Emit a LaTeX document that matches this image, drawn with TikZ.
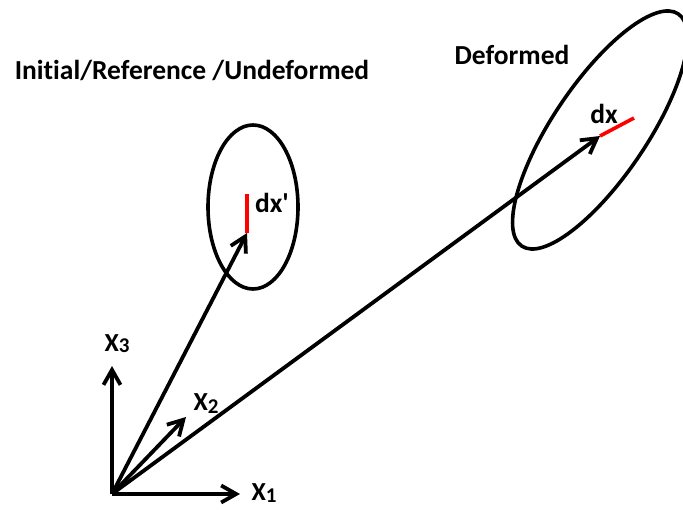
\documentclass[tikz,border=0pt]{standalone}
\usepackage{fontspec}
\setmainfont{Carlito}[Ligatures=CommonOff]
\usetikzlibrary{arrows.meta}
\begin{document}
\begin{tikzpicture}[x=1pt,y=1pt,
  vec/.style={line width=3.8pt,-{Straight Barb[length=15pt,width=17pt]}},
  elli/.style={line width=3.6pt},
  elem/.style={line width=3.6pt,red},
  lab/.style={font=\bfseries\fontsize{27.5}{30}\selectfont,inner sep=0pt},
  axl/.style={font=\bfseries\fontsize{26}{30}\selectfont,inner sep=0pt},
  sub/.style={}]
\clip (0,0) rectangle (683,510);
\useasboundingbox (0,0) rectangle (683,510);
\coordinate (O) at (112,16);
\coordinate (x1e) at (240,16);
\coordinate (x3e) at (112,144);
\coordinate (x2e) at (186,93);
\coordinate (dpb) at (247,277);
\coordinate (dpt) at (247,316);
\coordinate (dxs) at (600,374);
\coordinate (dxe) at (634,392);
\draw[elli] (253,303) ellipse [x radius=45, y radius=82];
\draw[elli,rotate around={56:(600,380)}] (600,380) ellipse [x radius=140, y radius=47];
\draw[vec] (O) -- (x1e);
\draw[vec] (O) -- (x3e);
\draw[vec] (O) -- (x2e);
\draw[vec] (O) -- (dpb);
\draw[vec] (O) -- (dxs);
\draw[elem] (dpb) -- (dpt);
\draw[elem] (dxs) -- (dxe);
\node[axl] (lx1) at (264,17) {X\raisebox{-2pt}{\fontsize{21}{22}\selectfont 1}};
\node[axl] (lx3) at (117,166) {X\raisebox{-1pt}{\fontsize{21}{22}\selectfont 3}};
\node[axl] (lx2) at (206,106) {X\raisebox{-3pt}{\fontsize{21}{22}\selectfont 2}};
\node[lab] (ldxp) at (272,307) {dx\textquotesingle};
\node[lab] (ldx) at (604,396) {dx};
\node[lab] (ldef) at (512,455) {Deformed};
\node[lab] (ltitle) at (192,440) {Initial/Reference /Undeformed};
\end{tikzpicture}
\end{document}
